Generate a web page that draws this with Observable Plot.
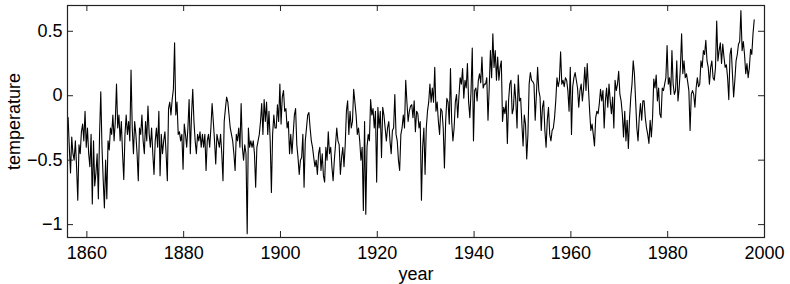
<!DOCTYPE html>
<html>
<head>
<meta charset="utf-8">
<script src="https://cdn.jsdelivr.net/npm/d3@7"></script>
<script src="https://cdn.jsdelivr.net/npm/@observablehq/plot@0.6"></script>
<style>
  html, body { margin: 0; padding: 0; background: white; }
</style>
</head>
<body>
<div id="chart"></div>
<script>
// Quarterly readings of the temperature anomaly, one row per year, 1856–1997
const startYear = 1856;
const perYear = 4;
const anomaly = [
  -0.17, -0.40, -0.60, -0.32, // 1856
  -0.45, -0.50, -0.35, -0.55,
  -0.81, -0.38, -0.45, -0.28,
  -0.22, -0.35, -0.12, -0.40,
  -0.25, -0.45, -0.55, -0.30, // 1860
  -0.84, -0.35, -0.70, -0.60,
  -0.45, -0.80, -0.30, 0.03,
  -0.40, -0.65, -0.87, -0.50,
  -0.80, -0.35, -0.42, -0.25,
  -0.30, -0.15, -0.35, -0.20,
  0.09, -0.25, -0.15, -0.35,
  -0.20, -0.45, -0.65, -0.30,
  -0.15, -0.30, -0.20, -0.35,
  0.20, -0.25, -0.45, -0.20,
  -0.30, -0.45, -0.66, -0.25, // 1870
  -0.30, -0.15, -0.35, -0.45,
  -0.20, -0.35, -0.08, -0.30,
  -0.40, -0.25, -0.45, -0.61,
  -0.35, -0.25, -0.40, -0.12,
  -0.62, -0.30, -0.45, -0.35,
  -0.28, -0.45, -0.66, -0.10,
  -0.05, -0.15, -0.03, 0.05,
  0.41, -0.15, -0.05, -0.30,
  -0.28, -0.35, -0.30, -0.57,
  -0.22, -0.30, -0.40, -0.25, // 1880
  -0.03, -0.45, -0.15, 0.05,
  -0.20, -0.35, -0.45, -0.30,
  -0.35, -0.28, -0.40, -0.30,
  -0.40, -0.30, -0.58, -0.35,
  -0.30, -0.40, -0.25, -0.06,
  -0.20, -0.35, -0.53, -0.30,
  -0.35, -0.40, -0.30, -0.45,
  -0.66, -0.20, -0.10, -0.01,
  -0.05, -0.15, -0.25, -0.30,
  -0.35, -0.45, -0.58, -0.30, // 1890
  -0.35, -0.25, -0.40, -0.06,
  -0.40, -0.50, -0.38, -0.45,
  -1.07, -0.25, -0.40, -0.35,
  -0.40, -0.35, -0.45, -0.71,
  -0.40, -0.35, -0.30, -0.20,
  -0.06, -0.30, -0.03, -0.20,
  -0.05, -0.30, -0.12, -0.35,
  -0.75, -0.30, -0.15, -0.25,
  -0.25, -0.07, -0.20, 0.09,
  -0.22, -0.01, 0.04, -0.12, // 1900
  -0.10, -0.25, -0.20, -0.45,
  -0.30, -0.45, -0.30, -0.15,
  -0.10, -0.38, -0.48, -0.61,
  -0.50, -0.48, -0.30, -0.71,
  -0.35, -0.25, -0.15, -0.13,
  -0.25, -0.35, -0.40, -0.48,
  -0.55, -0.50, -0.61, -0.45,
  -0.40, -0.58, -0.45, -0.62,
  -0.67, -0.40, -0.50, -0.28,
  -0.45, -0.40, -0.55, -0.66, // 1910
  -0.50, -0.38, -0.25, -0.35,
  -0.38, -0.61, -0.48, -0.40,
  -0.55, -0.38, -0.12, -0.04,
  -0.30, -0.12, -0.25, -0.20,
  0.05, -0.05, -0.15, -0.30,
  -0.25, -0.35, -0.50, -0.40,
  -0.89, -0.20, -0.92, -0.40,
  -0.30, -0.35, -0.03, -0.15,
  -0.10, -0.25, -0.12, -0.67,
  -0.09, -0.25, -0.12, -0.48, // 1920
  -0.09, -0.15, -0.25, -0.35,
  -0.25, -0.20, -0.35, -0.45,
  -0.27, -0.25, 0.01, -0.30,
  -0.35, -0.50, -0.58, -0.30,
  -0.25, -0.15, -0.25, 0.12,
  -0.05, -0.20, -0.12, -0.08,
  -0.07, -0.17, -0.04, -0.28,
  -0.12, -0.14, -0.25, -0.20,
  -0.81, -0.40, -0.25, -0.61,
  -0.25, -0.12, -0.05, 0.09, // 1930
  -0.05, 0.06, -0.05, 0.22,
  -0.12, -0.05, -0.20, -0.30,
  -0.10, -0.12, -0.25, -0.56,
  -0.20, -0.02, -0.05, -0.22,
  0.21, -0.20, -0.35, -0.25,
  -0.05, 0.01, -0.17, 0.00,
  0.14, 0.09, 0.21, -0.02,
  0.12, 0.06, 0.25, -0.05,
  -0.17, 0.04, 0.37, -0.35,
  0.04, 0.06, -0.04, 0.12, // 1940
  0.17, 0.10, 0.30, 0.06,
  0.09, 0.09, 0.14, -0.19,
  0.06, 0.35, 0.14, 0.48,
  0.22, 0.35, 0.12, 0.30,
  0.12, 0.22, 0.27, -0.20,
  -0.09, -0.14, -0.04, -0.37,
  -0.04, 0.09, 0.12, -0.14,
  -0.10, 0.09, -0.04, -0.25,
  0.16, -0.04, -0.02, -0.22,
  -0.39, -0.15, -0.22, -0.49, // 1950
  -0.30, 0.09, 0.18, 0.12,
  0.11, 0.09, -0.19, 0.01,
  0.22, 0.04, -0.01, -0.27,
  -0.09, -0.04, -0.27, -0.40,
  -0.19, -0.09, -0.30, -0.35,
  -0.27, -0.25, -0.17, -0.04,
  0.14, 0.07, 0.12, 0.34,
  0.09, 0.12, 0.07, 0.14,
  0.12, 0.04, -0.12, 0.22,
  -0.30, 0.07, 0.14, 0.18, // 1960
  0.12, 0.06, -0.09, 0.04,
  0.09, -0.04, 0.06, 0.22,
  0.04, 0.25, 0.06, -0.12,
  -0.27, -0.22, -0.30, -0.39,
  -0.17, -0.12, -0.14, -0.06,
  0.05, -0.04, 0.04, -0.25,
  -0.04, 0.06, -0.09, 0.09,
  -0.04, -0.14, -0.01, -0.25,
  0.12, 0.04, 0.09, 0.19,
  0.01, -0.04, -0.14, -0.32, // 1970
  -0.12, -0.35, -0.19, -0.41,
  -0.17, -0.01, 0.09, 0.27,
  0.17, -0.04, -0.25, -0.35,
  -0.17, -0.06, -0.19, -0.04,
  -0.04, -0.17, -0.25, -0.30,
  -0.37, -0.19, -0.32, -0.17,
  0.13, 0.06, 0.16, -0.04,
  0.06, -0.14, -0.17, 0.06,
  0.04, 0.09, 0.14, 0.39,
  0.09, 0.14, 0.01, 0.35, // 1980
  0.09, 0.01, 0.04, 0.27,
  -0.04, 0.06, 0.22, 0.48,
  0.17, 0.27, 0.14, 0.17,
  0.11, 0.04, -0.27, 0.01,
  0.04, 0.01, -0.09, 0.06,
  0.14, 0.07, 0.09, 0.27,
  0.22, 0.35, 0.32, 0.43,
  0.27, 0.22, 0.09, 0.22,
  0.27, 0.14, 0.12, 0.22,
  0.58, 0.27, 0.35, 0.41, // 1990
  0.25, 0.40, 0.30, 0.22,
  0.24, 0.14, -0.03, 0.32,
  0.37, 0.17, -0.01, 0.12,
  0.27, 0.32, 0.40, 0.42,
  0.66, 0.35, 0.42, 0.32,
  0.17, 0.25, 0.14, 0.22,
  0.36, 0.32, 0.48, 0.59  // 1997
];
const xTicks = [1860, 1880, 1900, 1920, 1940, 1960, 1980, 2000];
const yTicks = [-1, -0.5, 0, 0.5];
const xDomain = [1856, 2000];
const yDomain = [-1.1, 0.7];

const data = anomaly.map((v, i) => ({ year: startYear + (i + 0.5) / perYear, temp: v }));

const W = 790, H = 284;
const mL = 67, mR = 26, mT = 5, mB = 47;
const plotW = W - mL - mR, plotH = H - mT - mB;
const tick = 6;
const frameColor = "#222";

const chart = Plot.plot({
  width: W,
  height: H,
  marginLeft: mL,
  marginRight: mR,
  marginTop: mT,
  marginBottom: mB,
  style: { fontFamily: "'Liberation Sans', Arial, Helvetica, sans-serif", fontSize: "18px", background: "white", color: "black", overflow: "visible" },
  x: { domain: xDomain },
  y: { domain: yDomain },
  marks: [
    Plot.line(data, { x: "year", y: "temp", stroke: "black", strokeWidth: 1.1 }),
    Plot.frame({ stroke: frameColor, strokeWidth: 1.2 }),
    Plot.ruleX(xTicks, { x: d => d, insetTop: plotH - tick, stroke: frameColor }),
    Plot.ruleX(xTicks, { x: d => d, insetBottom: plotH - tick, stroke: frameColor }),
    Plot.ruleY(yTicks, { y: d => d, insetRight: plotW - tick, stroke: frameColor }),
    Plot.ruleY(yTicks, { y: d => d, insetLeft: plotW - tick, stroke: frameColor }),
    Plot.axisX(xTicks, { tickSize: 0, tickPadding: 9, tickFormat: d3.format("d"), label: "year", labelAnchor: "center", labelOffset: 42, labelArrow: "none" }),
    Plot.axisY(yTicks, { tickSize: 0, tickPadding: 5, tickFormat: d3.format(""), label: "temperature", labelAnchor: "center", labelOffset: 60, labelArrow: "none" })
  ]
});
document.getElementById("chart").appendChild(chart);
</script>
</body>
</html>
